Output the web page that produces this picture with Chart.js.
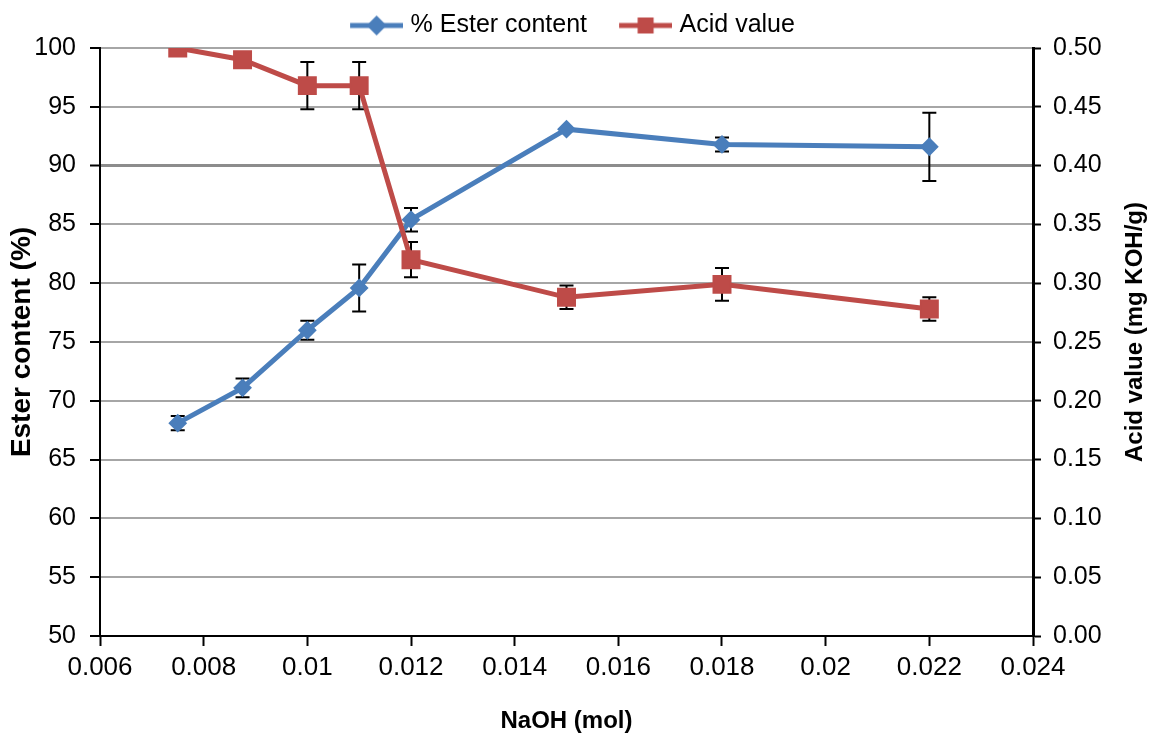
<!DOCTYPE html>
<html>
<head>
<meta charset="utf-8">
<title>Ester content and acid value vs NaOH</title>
<script src="https://cdn.jsdelivr.net/npm/chart.js@4.4.1/dist/chart.umd.min.js"></script>
<style>
    html, body { margin: 0; padding: 0; background: #fff; }
    #wrap { width: 1151px; height: 733px; }
</style>
</head>
<body>
<div id="wrap"><canvas id="esterChart" width="1151" height="733"></canvas></div>
<script>
// NaOH amount (mol)
const naoh = [0.0075, 0.00875, 0.01, 0.011, 0.012, 0.015, 0.018, 0.022];
// % ester content and its error
const ester = [68.1, 71.1, 76.0, 79.6, 85.4, 93.1, 91.8, 91.6];
const esterErr = [0.6, 0.8, 0.8, 2.0, 1.0, 0, 0.6, 2.9];
// acid value (mg KOH/g) and its error
const acid = [0.50, 0.49, 0.468, 0.468, 0.32, 0.288, 0.299, 0.278];
const acidErr = [0, 0, 0.02, 0.02, 0.015, 0.01, 0.014, 0.01];

const xTicks = [0.006, 0.008, 0.01, 0.012, 0.014, 0.016, 0.018, 0.02, 0.022, 0.024];
const leftTicks = [50, 55, 60, 65, 70, 75, 80, 85, 90, 95, 100];
const rightTicks = [0, 0.05, 0.1, 0.15, 0.2, 0.25, 0.3, 0.35, 0.4, 0.45, 0.5];

const BLUE = '#4a7ebb';
const RED = '#be4b48';
const FONT = '"Liberation Sans", Arial, sans-serif';
const RIGHT_TITLE = 'Acid value (mg KOH/g)';

// legend icon: line with a marker, drawn on a small canvas
function legendIcon(color, shape) {
    const c = document.createElement('canvas');
    c.width = 80; c.height = 24;
    const g = c.getContext('2d');
    const x0 = 27, x1 = 80, cy = 12;
    g.strokeStyle = color;
    g.lineWidth = 5;
    g.beginPath(); g.moveTo(x0, cy); g.lineTo(x1, cy); g.stroke();
    g.fillStyle = color;
    const mx = (x0 + x1) / 2;
    g.beginPath();
    if (shape === 'diamond') {
        g.moveTo(mx, cy - 10); g.lineTo(mx + 10, cy); g.lineTo(mx, cy + 10); g.lineTo(mx - 10, cy);
    } else {
        g.rect(mx - 8, cy - 8, 16, 16);
    }
    g.closePath(); g.fill();
    return c;
}

const toPoints = (xs, ys) => xs.map((x, i) => ({ x: x, y: ys[i] }));

// error bars drawn through the chart's own scales, under the markers
const errorBars = {
    id: 'errorBars',
    beforeDatasetsDraw(chart) {
        const ctx = chart.ctx;
        const xs = chart.scales.x;
        const sets = [
            { vals: ester, errs: esterErr, scale: chart.scales.y },
            { vals: acid, errs: acidErr, scale: chart.scales.y2 }
        ];
        ctx.save();
        ctx.strokeStyle = '#000';
        ctx.lineWidth = 2;
        sets.forEach(s => {
            s.vals.forEach((v, i) => {
                const e = s.errs[i];
                if (!e) return;
                const px = xs.getPixelForValue(naoh[i]);
                const top = s.scale.getPixelForValue(v + e);
                const bot = s.scale.getPixelForValue(v - e);
                ctx.beginPath();
                ctx.moveTo(px, top); ctx.lineTo(px, bot);
                ctx.moveTo(px - 7, top); ctx.lineTo(px + 7, top);
                ctx.moveTo(px - 7, bot); ctx.lineTo(px + 7, bot);
                ctx.stroke();
            });
        });
        ctx.restore();
    }
};

// right axis title reads bottom-to-top, like the left one
const rightTitle = {
    id: 'rightTitle',
    afterDraw(chart) {
        const ctx = chart.ctx;
        ctx.save();
        ctx.translate(chart.width - 16, (chart.chartArea.top + chart.chartArea.bottom) / 2 - 10);
        ctx.rotate(-Math.PI / 2);
        ctx.font = 'bold 24px ' + FONT;
        ctx.fillStyle = '#000';
        ctx.textAlign = 'center';
        ctx.textBaseline = 'middle';
        ctx.fillText(RIGHT_TITLE, 0, 0);
        ctx.restore();
    }
};

const fmtX = v => String(+v.toFixed(3));

new Chart(document.getElementById('esterChart').getContext('2d'), {
    type: 'line',
    data: {
        datasets: [
            {
                label: '% Ester content',
                data: toPoints(naoh, ester),
                yAxisID: 'y',
                borderColor: BLUE,
                backgroundColor: BLUE,
                borderWidth: 5,
                pointStyle: 'rectRot',
                pointRadius: 8,
                pointBorderWidth: 2,
                tension: 0,
                order: 1
            },
            {
                label: 'Acid value',
                data: toPoints(naoh, acid),
                yAxisID: 'y2',
                borderColor: RED,
                backgroundColor: RED,
                borderWidth: 5,
                pointStyle: 'rect',
                pointRadius: 12,
                pointBorderWidth: 2,
                tension: 0,
                order: 0
            }
        ]
    },
    options: {
        responsive: false,
        animation: false,
        layout: { padding: { top: 3, left: 0, right: 28, bottom: 0 } },
        plugins: {
            tooltip: { enabled: false },
            legend: {
                position: 'top',
                labels: {
                    color: '#000',
                    font: { family: FONT, size: 25 },
                    usePointStyle: true,
                    pointStyleWidth: 70,
                    boxHeight: 24,
                    padding: 10,
                    generateLabels: (chart) => {
                        const icons = [legendIcon(BLUE, 'diamond'), legendIcon(RED, 'square')];
                        return chart.data.datasets.map((ds, i) => ({
                            text: ds.label,
                            pointStyle: icons[i],
                            fillStyle: ds.borderColor,
                            strokeStyle: ds.borderColor,
                            lineWidth: 0,
                            fontColor: '#000',
                            datasetIndex: i,
                            hidden: false
                        }));
                    }
                }
            }
        },
        scales: {
            x: {
                type: 'linear',
                min: 0.006,
                max: 0.024,
                afterBuildTicks: (scale) => { scale.ticks = xTicks.map(v => ({ value: v })); },
                afterFit: (scale) => { scale.height = 97; },
                ticks: {
                    color: '#000',
                    font: { family: FONT, size: 26 },
                    padding: 6,
                    maxRotation: 0,
                    autoSkip: false,
                    callback: fmtX
                },
                grid: { drawOnChartArea: false, drawTicks: true, tickLength: 10, tickColor: '#000', tickWidth: 2 },
                border: { color: '#000', width: 2 },
                title: {
                    display: true,
                    text: 'NaOH (mol)',
                    color: '#000',
                    font: { family: FONT, size: 24, weight: 'bold', lineHeight: 1 },
                    padding: { top: 0, bottom: 0 }
                }
            },
            y: {
                type: 'linear',
                position: 'left',
                min: 50,
                max: 100,
                afterBuildTicks: (scale) => { scale.ticks = leftTicks.map(v => ({ value: v })); },
                afterFit: (scale) => { scale.width = 100; },
                ticks: {
                    color: '#000',
                    font: { family: FONT, size: 25 },
                    padding: 14,
                    callback: v => String(v)
                },
                grid: {
                    color: (c) => c.tick && c.tick.value === 90 ? '#8c8c8c' : '#a6a6a6',
                    lineWidth: (c) => c.tick && c.tick.value === 90 ? 3 : 2,
                    tickLength: 10,
                    tickColor: '#000',
                    tickWidth: 2
                },
                border: { color: '#000', width: 2 },
                title: {
                    display: true,
                    text: 'Ester content (%)',
                    color: '#000',
                    font: { family: FONT, size: 28, weight: 'bold' },
                    padding: { top: 5, bottom: 0 }
                }
            },
            y2: {
                type: 'linear',
                position: 'right',
                min: 0,
                max: 0.5,
                afterBuildTicks: (scale) => { scale.ticks = rightTicks.map(v => ({ value: v })); },
                afterFit: (scale) => { scale.width = 90; },
                ticks: {
                    color: '#000',
                    font: { family: FONT, size: 25 },
                    padding: 12,
                    callback: v => v.toFixed(2)
                },
                grid: { drawOnChartArea: false, tickLength: 8, tickColor: '#000', tickWidth: 2 },
                border: { color: '#000', width: 3 },
                title: { display: false }
            }
        }
    },
    plugins: [errorBars, rightTitle]
});
</script>
</body>
</html>
